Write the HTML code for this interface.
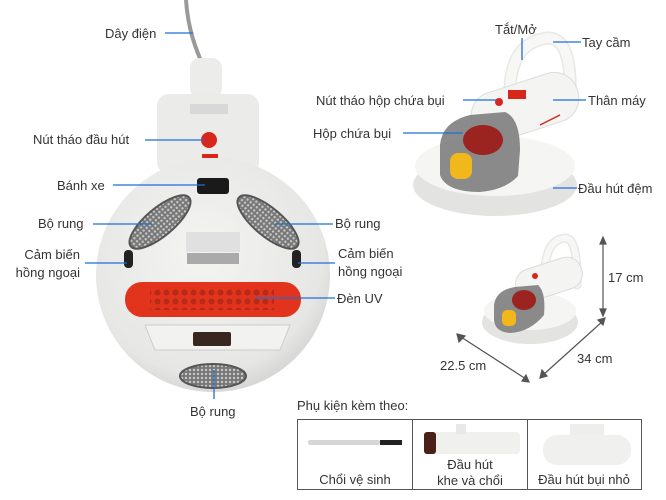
<!DOCTYPE html>
<html><head><meta charset="utf-8"><style>
html,body{margin:0;padding:0;background:#fff;}
svg{display:block;font-family:"Liberation Sans","DejaVu Sans",sans-serif;}
text{fill:#333;font-size:13px;}
.l{stroke:#1f6fd6;stroke-width:1.3;fill:none;}
</style></head><body>
<svg width="666" height="500" viewBox="0 0 666 500" xmlns="http://www.w3.org/2000/svg">
<defs>
<radialGradient id="g1" cx="0.45" cy="0.4" r="0.65"><stop offset="0" stop-color="#f4f4f2"/><stop offset="0.8" stop-color="#e6e6e4"/><stop offset="1" stop-color="#cfcfcd"/></radialGradient>
<pattern id="dots" width="4" height="4" patternUnits="userSpaceOnUse"><rect width="4" height="4" fill="#777"/><circle cx="2" cy="2" r="1.2" fill="#c8c8c8"/></pattern>
<pattern id="uv" width="9" height="9" patternUnits="userSpaceOnUse"><rect width="9" height="9" fill="#e2331c"/><circle cx="4.5" cy="4.5" r="3" fill="#b82a18"/></pattern>
</defs>
<!-- cord -->
<path d="M186,0 C188,30 196,50 205,70 L207,86" stroke="#9a9a9a" stroke-width="4" fill="none"/>
<rect x="190" y="58" width="32" height="40" rx="10" fill="#ececea"/>
<!-- upper body -->
<rect x="157" y="94" width="102" height="80" rx="12" fill="#ebebe9"/>
<rect x="190" y="104" width="38" height="10" fill="#d8d8d8"/>
<circle cx="209" cy="140" r="8" fill="#d8261a"/>
<rect x="202" y="154" width="16" height="4" fill="#d8261a"/>
<!-- main disc -->
<circle cx="213" cy="275" r="117" fill="url(#g1)"/>
<rect x="197" y="178" width="32" height="16" rx="3" fill="#1a1a1a"/>
<ellipse cx="160" cy="222" rx="38" ry="14" transform="rotate(-40 160 222)" fill="url(#dots)" stroke="#555" stroke-width="2"/>
<ellipse cx="268" cy="222" rx="38" ry="14" transform="rotate(40 268 222)" fill="url(#dots)" stroke="#555" stroke-width="2"/>
<rect x="186" y="232" width="54" height="20" fill="#e0e0e0"/>
<rect x="187" y="253" width="52" height="11" fill="#aaa"/>
<rect x="124" y="250" width="9" height="18" rx="4" fill="#222"/>
<rect x="292" y="250" width="9" height="18" rx="4" fill="#222"/>
<rect x="125" y="282" width="176" height="35" rx="17" fill="#e2331c"/>
<rect x="150" y="288" width="124" height="22" fill="url(#uv)"/>
<path d="M145,325 L290,325 L280,350 L155,350 Z" fill="#f2f2f0" stroke="#ccc"/>
<rect x="193" y="332" width="38" height="14" rx="2" fill="#3a2620"/>
<ellipse cx="213" cy="376" rx="33" ry="12" fill="url(#dots)" stroke="#555" stroke-width="2"/>
<!-- left labels -->
<text x="105" y="38">Dây điện</text><line class="l" x1="165" y1="33" x2="193" y2="33"/>
<text x="33" y="144">Nút tháo đầu hút</text><line class="l" x1="145" y1="140" x2="205" y2="140"/>
<text x="57" y="190">Bánh xe</text><line class="l" x1="113" y1="185" x2="205" y2="185"/>
<text x="38" y="228">Bộ rung</text><line class="l" x1="93" y1="224" x2="152" y2="224"/>
<text x="80" y="259" text-anchor="end">Cảm biến</text><text x="80" y="277" text-anchor="end">hồng ngoại</text>
<line class="l" x1="85" y1="263" x2="127" y2="263"/>
<text x="190" y="416">Bộ rung</text><line class="l" x1="214" y1="370" x2="214" y2="399"/>
<text x="335" y="228">Bộ rung</text><line class="l" x1="275" y1="224" x2="333" y2="224"/>
<text x="338" y="258">Cảm biến</text><text x="338" y="276">hồng ngoại</text>
<line class="l" x1="298" y1="263" x2="335" y2="263"/>
<text x="337" y="303">Đèn UV</text><line class="l" x1="255" y1="298" x2="335" y2="298"/>
<!-- right device -->
<ellipse cx="495" cy="185" rx="82" ry="31" fill="#e3e3e1"/>
<ellipse cx="495" cy="166" rx="80" ry="30" fill="#f5f5f3"/>
<path d="M510,88 Q512,42 548,38 Q572,38 570,95" stroke="#e8e8e6" stroke-width="13" fill="none" stroke-linecap="round"/>
<path d="M510,88 Q512,42 548,38 Q572,38 570,95" stroke="#f7f7f5" stroke-width="10" fill="none" stroke-linecap="round"/>
<rect x="470" y="82" width="110" height="50" rx="24" transform="rotate(-18 525 107)" fill="#f4f4f2" stroke="#dcdcdc"/>
<rect x="508" y="90" width="18" height="9" fill="#d8261a"/>
<circle cx="499" cy="102" r="4" fill="#d8261a"/>
<path d="M440,145 Q442,122 470,115 L505,112 Q520,118 520,150 L518,176 Q505,190 480,192 Q446,192 440,175 Z" fill="#7e7e7e" opacity="0.9"/>
<ellipse cx="483" cy="140" rx="20" ry="15" fill="#9b2320"/>
<rect x="450" y="153" width="22" height="26" rx="8" fill="#f2b81b"/>
<line x1="560" y1="115" x2="540" y2="125" stroke="#d8261a" stroke-width="1.5"/>
<!-- right labels -->
<text x="495" y="34">Tắt/Mở</text><line class="l" x1="522" y1="38" x2="522" y2="60"/>
<text x="582" y="47">Tay cầm</text><line class="l" x1="553" y1="42" x2="581" y2="42"/>
<text x="316" y="105">Nút tháo hộp chứa bụi</text><line class="l" x1="463" y1="100" x2="497" y2="100"/>
<text x="313" y="138">Hộp chứa bụi</text><line class="l" x1="403" y1="133" x2="463" y2="133"/>
<text x="588" y="105">Thân máy</text><line class="l" x1="553" y1="100" x2="586" y2="100"/>
<text x="578" y="193">Đầu hút đệm</text><line class="l" x1="553" y1="188" x2="577" y2="188"/>
<!-- small device -->
<ellipse cx="530" cy="322" rx="48" ry="22" fill="#e3e3e1"/>
<ellipse cx="530" cy="311" rx="46" ry="19" fill="#f5f5f3"/>
<path d="M545,268 Q547,240 565,238 Q578,238 577,285" stroke="#e8e8e6" stroke-width="9" fill="none" stroke-linecap="round"/>
<path d="M545,268 Q547,240 565,238 Q578,238 577,285" stroke="#f7f7f5" stroke-width="6" fill="none" stroke-linecap="round"/>
<rect x="515" y="263" width="68" height="32" rx="15" transform="rotate(-18 549 279)" fill="#f4f4f2" stroke="#dcdcdc"/>
<circle cx="535" cy="276" r="3" fill="#d8261a"/>
<path d="M494,305 Q496,290 515,287 L538,285 Q546,292 544,315 Q530,332 510,333 Q495,332 494,320 Z" fill="#7e7e7e" opacity="0.9"/>
<ellipse cx="524" cy="300" rx="12" ry="10" fill="#9b2320"/>
<rect x="502" y="310" width="14" height="16" rx="5" fill="#f2b81b"/>
<!-- dimension arrows -->
<g stroke="#555" stroke-width="1.2" fill="#555">
<line x1="603" y1="240" x2="603" y2="313"/>
<path d="M600,244 L603,237 L606,244 Z"/><path d="M600,309 L603,316 L606,309 Z"/>
<line x1="543" y1="375" x2="603" y2="321"/>
<path d="M598,320 L605,318 L603,325 Z"/><path d="M542,370 L540,378 L547,376 Z"/>
<line x1="461" y1="337" x2="526" y2="379"/>
<path d="M459,342 L457,334 L465,336 Z"/><path d="M522,381 L529,382 L526,375 Z"/>
</g>
<text x="608" y="282">17 cm</text>
<text x="577" y="363">34 cm</text>
<text x="440" y="370">22.5 cm</text>
<!-- accessories -->
<text x="297" y="410">Phụ kiện kèm theo:</text>
<rect x="297.5" y="419.5" width="344" height="70" fill="none" stroke="#555"/>
<line x1="412.5" y1="419" x2="412.5" y2="490" stroke="#555"/>
<line x1="527.5" y1="419" x2="527.5" y2="490" stroke="#555"/>
<rect x="308" y="440" width="72" height="5" rx="2" fill="#d6d6d6"/>
<rect x="380" y="440" width="22" height="5" fill="#222"/>
<rect x="424" y="432" width="96" height="22" rx="4" fill="#f0f0ee"/>
<rect x="424" y="432" width="12" height="22" rx="3" fill="#4a2018"/>
<rect x="456" y="424" width="10" height="10" fill="#e8e8e6"/>
<rect x="570" y="424" width="34" height="12" fill="#eeeeec"/>
<rect x="543" y="435" width="88" height="30" rx="14" fill="#f0f0ee"/>
<text x="355" y="484" text-anchor="middle">Chổi vệ sinh</text>
<text x="470" y="469" text-anchor="middle">Đầu hút</text>
<text x="470" y="485" text-anchor="middle">khe và chổi</text>
<text x="584" y="484" text-anchor="middle">Đầu hút bụi nhỏ</text>
</svg>
</body></html>
